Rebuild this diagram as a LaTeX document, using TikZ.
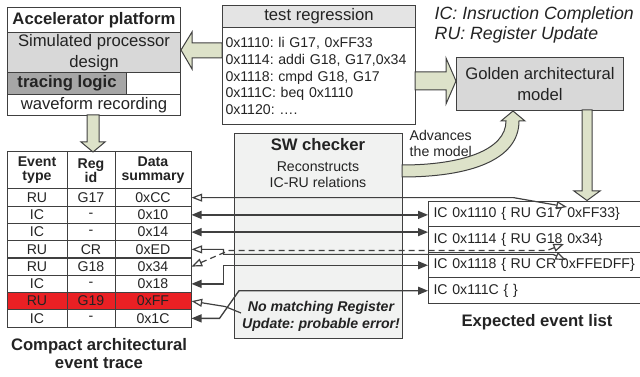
\documentclass[tikz,border=0pt]{standalone}
\usepackage{fontspec}
\setmainfont{Liberation Sans}
\usetikzlibrary{arrows.meta,calc}
\frenchspacing

\definecolor{linegray}{RGB}{64,64,64}
\definecolor{txtgray}{RGB}{35,35,35}
\definecolor{arrowfill}{RGB}{221,226,201}
\definecolor{boxgray}{RGB}{216,216,216}
\definecolor{darkbox}{RGB}{166,166,166}
\definecolor{headgray}{RGB}{228,228,228}
\definecolor{lightbox}{RGB}{241,242,241}
\definecolor{errred}{RGB}{234,32,36}

\newcommand{\fntlarge}{\fontsize{12.5}{15.5}\selectfont}
\newcommand{\fntsmall}{\fontsize{10.6}{12.6}\selectfont}
\newcommand{\fnthead}{\fontsize{10.6}{10.6}\selectfont}
\newcommand{\fntlegend}{\fontsize{13.3}{15}\selectfont}

\tikzset{
  box/.style={draw=linegray, line width=0.75pt, inner sep=0pt, text=txtgray},
  cell/.style={box, minimum height=12.94pt, font=\fntsmall},
  colev/.style={cell, minimum width=45pt},
  colreg/.style={cell, minimum width=36pt},
  coldat/.style={cell, minimum width=57pt},
  listrow/.style={box, anchor=north west, minimum height=19.125pt, text width=153pt, inner xsep=3.75pt, align=left, font=\fntsmall},
  blockarrow/.style={draw=linegray, line width=0.75pt, fill=arrowfill},
  icline/.style={draw=linegray, line width=1pt, {Triangle[length=7.5pt,width=6pt]}-{Triangle[length=7.5pt,width=6pt]}},
  ruline/.style={draw=linegray, line width=0.9pt, {Triangle[open,length=8pt,width=6pt]}-{Triangle[open,length=8pt,width=6pt]}},
}

\begin{document}
\begin{tikzpicture}[x=0.75pt,y=0.75pt,yscale=-1,xscale=1]
\useasboundingbox (0,0) rectangle (640,377);

%Shape: Accelerator platform
\node[box, anchor=north west, minimum width=129.75pt, minimum height=18.75pt, font=\fntlarge\bfseries] (acc) at (7,7) {Accelerator platform};
\node[box, fill=boxgray, anchor=north west, minimum width=129.75pt, minimum height=30pt, align=center, font=\fntlarge] (sim) at (7,32) {Simulated processor\\design};
\node[box, fill=white, anchor=north west, minimum width=129.75pt, minimum height=16.5pt] (tracerow) at (7,72) {};
\node[box, fill=darkbox, anchor=north west, minimum width=89.25pt, minimum height=16.5pt, font=\fntlarge\bfseries] (trace) at (7,72) {tracing logic};
\node[box, anchor=north west, minimum width=129.75pt, minimum height=15.75pt, font=\fntlarge] (wave) at (7,94) {waveform recording};

%Shape: test regression
\node[box, fill=headgray, anchor=north west, minimum width=144.75pt, minimum height=16.5pt, font=\fntlarge] (treg) at (222,5) {test regression};
\node[box, anchor=north west, minimum width=144.75pt, minimum height=72.75pt, text width=140.25pt, inner xsep=2.25pt, align=left, font=\fntsmall] (prog) at (222,27) {0x1110: li G17, 0xFF33\\0x1114: addi G18, G17,0x34\\0x1118: cmpd G18, G17\\0x111C: beq 0x1110\\0x1120: ….};

% Text Node
\node[anchor=west, font=\fntlegend\itshape, text=txtgray] (leg1) at (430,15) {IC: Insruction Completion};
% Text Node
\node[anchor=west, font=\fntlegend\itshape, text=txtgray] (leg2) at (430,35) {RU: Register Update};

%Shape: Golden model
\node[box, fill=boxgray, anchor=north west, minimum width=125.25pt, minimum height=39.75pt, align=center, font=\fntlarge] (gold) at (456,57) {Golden architectural\\model};

%Shape: SW checker
\node[box, fill=lightbox, anchor=north west, minimum width=126pt, minimum height=153.75pt] (swc) at (234,133) {};
% Text Node
\node[font=\fntlarge\bfseries, text=txtgray] (swtitle) at (318,145) {SW checker};
% Text Node
\node[align=center, font=\fontsize{10.6}{12}\selectfont, text=txtgray] (swtxt) at (318,175) {Reconstructs\\IC-RU relations};
% Text Node
\node[anchor=west, align=left, font=\fntsmall, text=txtgray] (adv) at (405,143.5) {Advances\\the model};

%Shape: Block arrows
\draw[blockarrow] (222,43) -- (192,43) -- (192,32) -- (181,50) -- (192,69) -- (192,58) -- (222,58) -- cycle;
\draw[blockarrow] (415,72) -- (446,72) -- (446,58) -- (456,81) -- (446,104) -- (446,90) -- (415,90) -- cycle;
\draw[blockarrow] (87,115) -- (87,142) -- (81,142) -- (93,152) -- (105,142) -- (99,142) -- (99,115) -- cycle;
\draw[blockarrow] (582,110) -- (582,191) -- (574,191) -- (587,200.5) -- (600,191) -- (592,191) -- (592,110) -- cycle;
\draw[blockarrow] (402,165) .. controls (462,165) and (506,150) .. (506,121) -- (501,121) -- (513,111) -- (525,121) -- (519,121) .. controls (519,160) and (470,177) .. (402,177) -- cycle;

%Shape: Event trace table
\node[box, minimum width=45pt, minimum height=27.75pt, align=center, font=\fnthead\bfseries] (hev) at (37,170.5) {Event\\type};
\node[box, minimum width=36pt, minimum height=27.75pt, align=center, font=\fnthead\bfseries] (hreg) at (91,170.5) {Reg\\id};
\node[box, minimum width=57pt, minimum height=27.75pt, align=center, font=\fnthead\bfseries] (hdat) at (153,170.5) {Data\\summary};
\node[colev] (e1) at (37,197.63) {RU}; \node[colreg] (r1) at (91,197.63) {G17}; \node[coldat] (d1) at (153,197.63) {0xCC};
\node[colev] (e2) at (37,214.88) {IC}; \node[colreg] (r2) at (91,214.88) {-}; \node[coldat] (d2) at (153,214.88) {0x10};
\node[colev] (e3) at (37,232.13) {IC}; \node[colreg] (r3) at (91,232.13) {-}; \node[coldat] (d3) at (153,232.13) {0x14};
\node[colev] (e4) at (37,249.38) {RU}; \node[colreg] (r4) at (91,249.38) {CR}; \node[coldat] (d4) at (153,249.38) {0xED};
\node[colev] (e5) at (37,266.63) {RU}; \node[colreg] (r5) at (91,266.63) {G18}; \node[coldat] (d5) at (153,266.63) {0x34};
\node[colev] (e6) at (37,283.88) {IC}; \node[colreg] (r6) at (91,283.88) {-}; \node[coldat] (d6) at (153,283.88) {0x18};
\node[colev, fill=errred] (e7) at (37,301.13) {RU}; \node[colreg, fill=errred] (r7) at (91,301.13) {G19}; \node[coldat, fill=errred] (d7) at (153,301.13) {0xFF};
\node[colev] (e8) at (37,318.38) {IC}; \node[colreg] (r8) at (91,318.38) {-}; \node[coldat] (d8) at (153,318.38) {0x1C};
% Text Node
\node[align=center, font=\fontsize{12.5}{13.5}\selectfont\bfseries, text=txtgray] (tracecap) at (99,354) {Compact architectural\\event trace};

%Shape: Expected event list
\node[listrow] (l1) at (428,201) {IC 0x1110 \{ RU G17 0xFF33\}};
\node[listrow] (l2) at (428,226.5) {IC 0x1114 \{ RU G18 0x34\}};
\node[listrow] (l3) at (428,252) {IC 0x1118 \{ RU CR 0xFFEDFF\}};
\node[listrow] (l4) at (428,277.5) {IC 0x111C \{ \}};
% Text Node
\node[font=\fntlarge\bfseries, text=txtgray] (listcap) at (537,322) {Expected event list};

%Straight Lines: IC-RU relations
\coordinate (g17) at (567,207);
\draw[ruline] (d1.east) -- ++(322,0) -- (g17);
\draw[icline] (d2.east) -- (d2.east -| l1.west);
\draw[icline] (d3.east) -- (d3.east -| l2.west);
\coordinate (cr) at (566,260);
\draw[ruline] (d4.east) -- ++(32,0) -- ++(0,5) -- (553,254.4) -- (cr);
\coordinate (g18) at (564,244);
\draw[ruline, dash pattern=on 4.5pt off 3pt] (d5.east) -- (229,250.5) -- (547,250.5) -- (g18);
\draw[icline] (d6.east) -- ++(32,0) |- (l3.west);
\coordinate (errpt) at (241,313);
\draw[draw=linegray, line width=0.9pt, {Triangle[open,length=8pt,width=6pt]}-] (d7.east) -- (225,306.5) -- (errpt);
\draw[icline] (d8.east) -- ++(28,0) -- ($(l4.west)+(-189,0)$) -- (l4.west);

% Text Node
\node[align=center, font=\fontsize{10.6}{12.75}\selectfont\bfseries\itshape, text=txtgray] (err) at (321,316.5) {No matching Register\\Update: probable error!};

\end{tikzpicture}
\end{document}
